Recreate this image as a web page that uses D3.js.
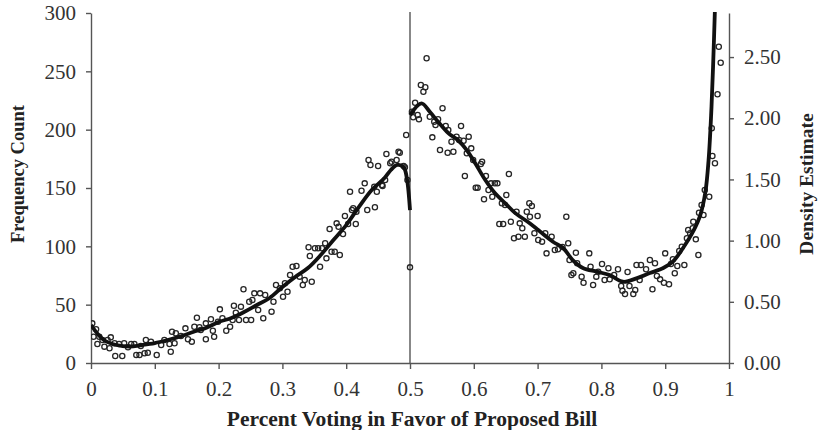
<!DOCTYPE html>
<html>
<head>
<meta charset="utf-8">
<script src="https://cdn.jsdelivr.net/npm/d3@7"></script>
<style>
  html, body { margin: 0; padding: 0; background: #fff; }
  svg { display: block; }
  .tick text { font-family: "Liberation Serif", "Times New Roman", serif; font-size: 21px; fill: #333; }
  .title { font-family: "Liberation Serif", "Times New Roman", serif; font-weight: bold; fill: #222; }
</style>
</head>
<body>
<svg id="chart" width="818" height="430"></svg>
<script>
// Observed roll-call frequencies: [share voting in favour, count]
const countPoints = [
  [0.002,34],[0.004,22.5],[0.008,28.9],[0.010,16.3],[0.013,22.5],[0.018,19.7],[0.021,14],[0.026,19.7],
  [0.029,12.6],[0.031,22],[0.037,16.9],[0.038,6],[0.044,16.3],[0.049,6],[0.052,16.9],[0.058,13.5],
  [0.063,16.3],[0.068,16.3],[0.071,6.9],[0.076,6.9],[0.078,14.6],[0.084,8.3],[0.086,19.7],[0.089,8.8],
  [0.094,18.3],[0.103,6.9],[0.110,15.4],[0.115,19.7],[0.123,16.3],[0.125,9.7],[0.127,26.8],[0.131,16.9],
  [0.133,25.5],[0.141,23.1],[0.148,29.7],[0.152,20.3],[0.158,18.3],[0.162,31.1],[0.166,38.8],[0.170,30.6],
  [0.172,28.3],[0.180,20.3],[0.180,34],[0.188,37.5],[0.191,27.7],[0.193,22.5],[0.199,35.4],[0.202,46],
  [0.206,38.3],[0.212,27.7],[0.218,31.1],[0.222,36.9],[0.224,49.1],[0.227,43.1],[0.232,36.9],[0.235,48.3],
  [0.239,63.2],[0.243,36.9],[0.248,52.5],[0.251,36.9],[0.253,54],[0.256,59.7],[0.262,45.4],[0.265,59.7],
  [0.270,38.3],[0.273,58.3],[0.283,44],[0.286,52.5],[0.290,66.9],[0.296,64],[0.301,56.8],[0.304,68.3],
  [0.308,61.1],[0.312,75.4],[0.316,82.5],[0.322,83.1],[0.327,74],[0.332,66.9],[0.335,71.1],[0.341,99.2],
  [0.343,91.7],[0.346,69.7],[0.351,98.3],[0.356,98.3],[0.359,82.5],[0.362,98.3],[0.367,102.6],[0.369,89.7],
  [0.374,114.9],[0.377,95.4],[0.382,95.4],[0.385,119.7],[0.388,116.8],[0.390,92.6],[0.395,110.6],[0.398,126],
  [0.403,119.1],[0.406,146.8],[0.409,131.1],[0.411,132.6],[0.415,119.1],[0.416,129.7],[0.424,147.7],[0.429,154],
  [0.433,131.1],[0.435,174],[0.438,169.7],[0.444,151.1],[0.445,133.5],[0.448,146.8],[0.450,168.9],[0.456,152.6],
  [0.457,151.7],[0.461,156.9],[0.463,179.1],[0.469,171.2],[0.471,172.5],[0.479,174],[0.482,181.1],[0.484,180.3],
  [0.490,168.9],[0.492,167.7],[0.494,195.4],[0.496,156.9],[0.500,82],
  [0.503,215.4],[0.505,210.6],[0.508,223.1],[0.512,212.6],[0.514,208.9],[0.517,238.3],[0.521,232.5],[0.524,236.3],
  [0.526,261.2],[0.531,211.1],[0.535,193.4],[0.538,206.8],[0.540,204],[0.544,208.9],[0.547,182.6],[0.551,218.3],
  [0.556,203.1],[0.559,180.2],[0.560,199.7],[0.565,189.7],[0.568,181.1],[0.573,194],[0.577,191.1],[0.580,203.1],
  [0.584,190.5],[0.586,160.3],[0.589,179.7],[0.592,194],[0.596,184],[0.599,174],[0.603,150.3],[0.606,150.3],
  [0.611,170.6],[0.613,172.5],[0.616,140.3],[0.619,160.3],[0.623,148.3],[0.627,154],[0.629,142.5],[0.633,154],
  [0.637,154],[0.640,119.1],[0.644,136.9],[0.646,119.1],[0.649,135.4],[0.651,144],[0.655,162],[0.658,121.1],
  [0.663,106.9],[0.667,129.7],[0.670,108.3],[0.672,119.7],[0.676,115.5],[0.680,108.3],[0.683,129.7],[0.687,136.9],
  [0.688,125.4],[0.691,134.6],[0.695,111.2],[0.700,126],[0.701,105.4],[0.707,104],[0.712,111.2],[0.714,94],
  [0.722,108.3],[0.727,96.9],[0.732,97.5],[0.739,99.4],[0.745,125.4],[0.748,102.6],[0.750,88.3],[0.753,75.4],
  [0.756,76.9],[0.760,94.5],[0.762,85.5],[0.769,74],[0.772,68.8],[0.781,94],[0.783,82.5],[0.787,66.9],
  [0.792,74],[0.795,78.3],[0.801,84.9],[0.805,71.1],[0.811,81.2],[0.813,71.7],[0.820,75.4],[0.826,80.3],
  [0.831,66],[0.833,62],[0.837,59.1],[0.841,78],[0.844,66],[0.850,59.1],[0.853,62.6],[0.855,84],
  [0.860,71.1],[0.862,84],[0.870,80.3],[0.876,88.3],[0.880,63.2],[0.884,85.5],[0.887,74.6],[0.892,71.7],
  [0.898,68.8],[0.900,94],[0.906,67.5],[0.909,84.9],[0.912,88.9],[0.915,76.9],[0.919,83.1],[0.922,96],
  [0.926,99.7],[0.930,84],[0.934,106.9],[0.936,114],[0.939,111.2],[0.943,115.5],[0.944,121.1],[0.948,106],
  [0.952,92.6],[0.953,128.8],[0.957,135.4],[0.960,126.9],[0.962,148.3],[0.969,142.5],[0.973,201.2],[0.974,177.4],
  [0.978,171.2],[0.982,230.3],[0.984,271.1],[0.987,257.4]
];

// Smoothed density estimate, fitted separately on each side of 0.5
const densityLeft = [
  [0,0.31],[0.02,0.188],[0.04,0.147],[0.06,0.135],[0.08,0.147],[0.10,0.163],[0.12,0.188],[0.14,0.217],
  [0.16,0.253],[0.18,0.286],[0.20,0.335],[0.22,0.368],[0.24,0.417],[0.26,0.474],[0.28,0.531],[0.30,0.621],
  [0.32,0.703],[0.34,0.776],[0.36,0.882],[0.38,1.005],[0.40,1.127],[0.42,1.275],[0.44,1.413],[0.46,1.511],
  [0.47,1.577],[0.48,1.618],[0.49,1.601],[0.495,1.511],[0.50,1.25]
];
const densityRight = [
  [0.500,2.026],[0.518,2.122],[0.531,2.053],[0.544,1.971],[0.560,1.879],[0.575,1.822],[0.589,1.740],
  [0.602,1.634],[0.618,1.495],[0.633,1.389],[0.649,1.307],[0.665,1.225],[0.685,1.152],[0.701,1.087],
  [0.724,0.991],[0.740,0.940],[0.755,0.841],[0.771,0.776],[0.793,0.746],[0.813,0.719],[0.834,0.664],
  [0.856,0.694],[0.876,0.735],[0.897,0.776],[0.912,0.828],[0.928,0.940],[0.944,1.078],[0.955,1.209],
  [0.963,1.397],[0.968,1.658],[0.972,2.026],[0.975,2.418],[0.978,2.90]
];

const xTicks = [0,0.1,0.2,0.3,0.4,0.5,0.6,0.7,0.8,0.9,1];
const xTickLabels = ["0","0.1","0.2","0.3","0.4","0.5","0.6","0.7","0.8","0.9","1"];
const countTicks = [0,50,100,150,200,250,300];
const densityTicks = [0,0.5,1,1.5,2,2.5];
const densityTickLabels = ["0.00","0.50","1.00","1.50","2.00","2.50"];
const cutoff = 0.5;

const plotLeft = 91, plotRight = 729, plotTop = 13, plotBottom = 363;

const svg = d3.select("#chart");

const x = d3.scaleLinear().domain([0, 1]).range([plotLeft, plotRight]);
const yCount = d3.scaleLinear().domain([0, 300]).range([plotBottom, plotTop]);
const yDensity = d3.scaleLinear().domain([0, 2.86]).range([plotBottom, plotTop]);

svg.append("defs").append("clipPath").attr("id", "plot-clip")
  .append("rect").attr("x", plotLeft).attr("y", plotTop - 1)
  .attr("width", plotRight - plotLeft).attr("height", plotBottom - plotTop + 1);

// Axes
const axisColor = "#555";
const gx = svg.append("g").attr("transform", `translate(0,${plotBottom})`)
  .call(d3.axisBottom(x).tickValues(xTicks).tickFormat((d, i) => xTickLabels[i])
    .tickSize(6).tickSizeOuter(0).tickPadding(12));
const gyl = svg.append("g").attr("transform", `translate(${plotLeft},0)`)
  .call(d3.axisLeft(yCount).tickValues(countTicks).tickSize(5).tickSizeOuter(0).tickPadding(10));
const gyr = svg.append("g").attr("transform", `translate(${plotRight},0)`)
  .call(d3.axisRight(yDensity).tickValues(densityTicks).tickFormat((d, i) => densityTickLabels[i])
    .tickSize(5).tickSizeOuter(0).tickPadding(10));

[gx, gyl, gyr].forEach(g => {
  g.select(".domain").attr("stroke", axisColor).attr("stroke-width", 1.4);
  g.selectAll(".tick line").attr("stroke", axisColor).attr("stroke-width", 1.4);
});

// Threshold line at a simple majority
svg.append("line")
  .attr("x1", x(cutoff)).attr("x2", x(cutoff))
  .attr("y1", plotTop - 1).attr("y2", plotBottom)
  .attr("stroke", "#555").attr("stroke-width", 1.4);

const plot = svg.append("g").attr("clip-path", "url(#plot-clip)");

// Frequency counts
plot.selectAll("circle.pt").data(countPoints).join("circle")
  .attr("class", "pt")
  .attr("cx", d => x(d[0]))
  .attr("cy", d => yCount(d[1]))
  .attr("r", 2.6)
  .attr("fill", "none")
  .attr("stroke", "#262626")
  .attr("stroke-width", 1.3);

// Density curves
const line = d3.line()
  .x(d => x(d[0]))
  .y(d => yDensity(d[1]))
  .curve(d3.curveCatmullRom.alpha(0.5));

[densityLeft, densityRight].forEach(seg => {
  plot.append("path").datum(seg)
    .attr("d", line)
    .attr("fill", "none")
    .attr("stroke", "#111")
    .attr("stroke-width", 3.8)
    .attr("stroke-linejoin", "round")
    .attr("stroke-linecap", "butt");
});

// Titles
svg.append("text").attr("class", "title")
  .attr("x", 412).attr("y", 426)
  .attr("text-anchor", "middle").attr("font-size", 21.5)
  .text("Percent Voting in Favor of Proposed Bill");

svg.append("text").attr("class", "title")
  .attr("transform", "translate(24,174) rotate(-90)")
  .attr("text-anchor", "middle").attr("font-size", 18.5)
  .text("Frequency Count");

svg.append("text").attr("class", "title")
  .attr("transform", "translate(813,184) rotate(-90)")
  .attr("text-anchor", "middle").attr("font-size", 19.5)
  .text("Density Estimate");
</script>
</body>
</html>
